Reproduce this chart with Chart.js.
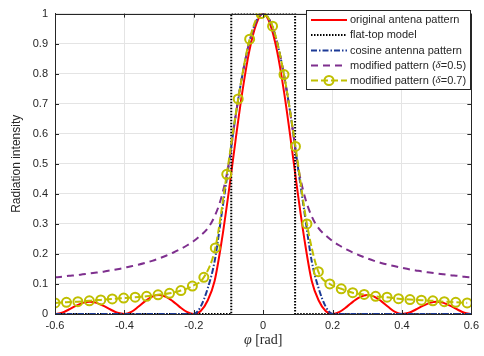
<!DOCTYPE html>
<html><head><meta charset="utf-8">
<script src="https://cdn.jsdelivr.net/npm/chart.js@4.4.0/dist/chart.umd.min.js"></script>
<style>html,body{margin:0;padding:0;background:#fff;}</style>
</head><body>
<canvas id="c" width="484" height="356"></canvas>
<script>
// ---- data ----
const phi = [-0.6,-0.58,-0.56,-0.54,-0.52,-0.5,-0.48,-0.46,-0.44,-0.42,-0.4,-0.38,-0.36,-0.34,-0.32,-0.3,-0.28,-0.26,-0.24,-0.22,-0.2,-0.18,-0.16,-0.14,-0.12,-0.1,-0.08,-0.06,-0.04,-0.02,0,0.02,0.04,0.06,0.08,0.1,0.12,0.14,0.16,0.18,0.2,0.22,0.24,0.26,0.28,0.3,0.32,0.34,0.36,0.38,0.4,0.42,0.44,0.46,0.48,0.5,0.52,0.54,0.56,0.58,0.6];
const original = [0,0.004,0.015,0.027,0.037,0.041,0.037,0.027,0.015,0.004,0,0.007,0.024,0.043,0.058,0.063,0.057,0.042,0.023,0.007,0,0.01,0.045,0.11,0.24,0.4,0.575,0.74,0.875,0.965,1,0.965,0.875,0.74,0.575,0.4,0.24,0.11,0.045,0.01,0,0.007,0.023,0.042,0.057,0.063,0.058,0.043,0.024,0.007,0,0.004,0.015,0.027,0.037,0.041,0.037,0.027,0.015,0.004,0];
const cosine = [0,0,0,0,0,0,0,0,0,0,0,0,0,0,0,0,0,0,0,0,0,0.025,0.085,0.175,0.33,0.49,0.655,0.795,0.905,0.975,1,0.975,0.905,0.795,0.655,0.49,0.33,0.175,0.085,0.025,0,0,0,0,0,0,0,0,0,0,0,0,0,0,0,0,0,0,0,0,0];
const modified05 = [0.122,0.124,0.127,0.129,0.132,0.135,0.138,0.141,0.145,0.149,0.154,0.159,0.164,0.17,0.177,0.185,0.194,0.204,0.215,0.228,0.243,0.262,0.285,0.325,0.39,0.495,0.655,0.795,0.905,0.975,1,0.975,0.905,0.795,0.655,0.495,0.39,0.325,0.285,0.262,0.243,0.228,0.215,0.204,0.194,0.185,0.177,0.17,0.164,0.159,0.154,0.149,0.145,0.141,0.138,0.135,0.132,0.129,0.127,0.124,0.122];
const phiMarkers = [-0.6,-0.567,-0.534,-0.501,-0.468,-0.435,-0.402,-0.369,-0.336,-0.303,-0.27,-0.237,-0.204,-0.171,-0.138,-0.105,-0.072,-0.039,-0.006,0.027,0.06,0.093,0.126,0.159,0.192,0.225,0.258,0.291,0.324,0.357,0.39,0.423,0.456,0.489,0.522,0.555,0.588];
const modified07 = [0.037,0.039,0.041,0.044,0.047,0.05,0.053,0.056,0.059,0.064,0.069,0.078,0.093,0.122,0.22,0.465,0.716,0.915,1.0,0.958,0.797,0.558,0.3,0.141,0.1,0.084,0.071,0.065,0.059,0.056,0.051,0.048,0.046,0.044,0.041,0.039,0.037];
const flatTopX = [-0.6,-0.092,-0.092,0.092,0.092,0.6];
const flatTopY = [0,0,1,1,0,0];
const seriesLabels = ['original antena pattern','flat-top model','cosine antenna pattern','modified pattern (\u03b4=0.5)','modified pattern (\u03b4=0.7)'];
const xTickLabels = ['-0.6','-0.4','-0.2','0','0.2','0.4','0.6'];
const yTickLabels = ['0','0.1','0.2','0.3','0.4','0.5','0.6','0.7','0.8','0.9','1'];
const xTitle = ['\u03c6', ' [rad]'];
const yTitle = 'Radiation intensity';

const pts = (xs, ys) => xs.map((x, i) => ({x: x, y: ys[i]}));
const AX = '#262626';
const SANS = '"Liberation Sans", Arial, Helvetica, sans-serif';
const SERIF = '"Liberation Serif", "DejaVu Serif", serif';

const datasets = [
  {label: seriesLabels[0], data: pts(phi, original), borderColor: '#ff0000', borderWidth: 2, pointRadius: 0, cubicInterpolationMode: 'monotone', order: 5},
  {label: seriesLabels[1], data: pts(flatTopX, flatTopY), borderColor: '#000000', borderWidth: 2, borderDash: [1.5, 1.5], pointRadius: 0, order: 4},
  {label: seriesLabels[2], data: pts(phi, cosine), borderColor: '#1c3a96', borderWidth: 2, borderDash: [6, 2, 1.5, 2], pointRadius: 0, cubicInterpolationMode: 'monotone', order: 3},
  {label: seriesLabels[3], data: pts(phi, modified05), borderColor: '#7e2f8e', borderWidth: 2, borderDash: [7, 5], pointRadius: 0, cubicInterpolationMode: 'monotone', order: 2},
  {label: seriesLabels[4], data: pts(phiMarkers, modified07), borderColor: '#bfbf00', borderWidth: 2, borderDash: [7, 3], pointRadius: 4.5, pointBorderWidth: 2, pointBorderColor: '#bfbf00', pointBackgroundColor: 'rgba(0,0,0,0)', cubicInterpolationMode: 'monotone', order: 1}
];

const deco = {
  id: 'deco',
  afterDraw(chart) {
    const ctx = chart.ctx, a = chart.chartArea;
    const xs = chart.scales.x, ys = chart.scales.y;
    ctx.save();
    // box
    ctx.strokeStyle = AX; ctx.lineWidth = 1; ctx.setLineDash([]);
    ctx.strokeRect(Math.round(a.left) + 0.5, Math.round(a.top) + 0.5, Math.round(a.right - a.left), Math.round(a.bottom - a.top));
    // inner ticks
    const tl = 4;
    ctx.beginPath();
    xs.ticks.forEach(t => {
      const px = Math.round(xs.getPixelForValue(t.value)) + 0.5;
      ctx.moveTo(px, a.bottom); ctx.lineTo(px, a.bottom - tl);
      ctx.moveTo(px, a.top); ctx.lineTo(px, a.top + tl);
    });
    ys.ticks.forEach(t => {
      const py = Math.round(ys.getPixelForValue(t.value)) + 0.5;
      ctx.moveTo(a.left, py); ctx.lineTo(a.left + tl, py);
      ctx.moveTo(a.right, py); ctx.lineTo(a.right - tl, py);
    });
    ctx.stroke();

    // axis titles
    ctx.fillStyle = AX;
    ctx.textBaseline = 'middle';
    ctx.font = 'italic 14px ' + SERIF;
    const w1 = ctx.measureText(xTitle[0]).width;
    ctx.font = '14px ' + SERIF;
    const w2 = ctx.measureText(xTitle[1]).width;
    const cx = (a.left + a.right) / 2;
    let tx = cx - (w1 + w2) / 2;
    ctx.textAlign = 'left';
    ctx.font = 'italic 14px ' + SERIF;
    ctx.fillText(xTitle[0], tx, 340);
    ctx.font = '14px ' + SERIF;
    ctx.fillText(xTitle[1], tx + w1, 340);

    ctx.save();
    ctx.translate(17, (a.top + a.bottom) / 2);
    ctx.rotate(-Math.PI / 2);
    ctx.textAlign = 'center';
    ctx.font = '12px ' + SANS;
    ctx.fillText(yTitle, 0, 0);
    ctx.restore();

    // legend
    const bx = 306.5, by = 10.5, bw = 164, bh = 79;
    ctx.fillStyle = '#ffffff';
    ctx.fillRect(bx, by, bw, bh);
    ctx.strokeStyle = AX; ctx.lineWidth = 1;
    ctx.strokeRect(bx, by, bw, bh);
    const rows = [20, 35, 50.5, 65.5, 80.5];
    chart.data.datasets.forEach((ds, i) => {
      const y = rows[i];
      ctx.save();
      ctx.strokeStyle = ds.borderColor;
      ctx.lineWidth = ds.borderWidth;
      ctx.setLineDash(ds.borderDash || []);
      ctx.beginPath(); ctx.moveTo(311, y); ctx.lineTo(347, y); ctx.stroke();
      if (ds.pointRadius) {
        ctx.setLineDash([]);
        ctx.lineWidth = ds.pointBorderWidth;
        ctx.strokeStyle = ds.pointBorderColor;
        ctx.beginPath(); ctx.arc(329, y, ds.pointRadius, 0, Math.PI * 2); ctx.stroke();
      }
      ctx.restore();
      // text, delta italic
      ctx.fillStyle = AX; ctx.textAlign = 'left'; ctx.textBaseline = 'middle';
      const parts = ds.label.split('\u03b4');
      let x = 350;
      parts.forEach((p, k) => {
        if (k > 0) {
          ctx.font = 'italic 11px ' + SERIF;
          ctx.fillText('\u03b4', x, y);
          x += ctx.measureText('\u03b4').width;
        }
        ctx.font = '11px ' + SANS;
        ctx.fillText(p, x, y);
        x += ctx.measureText(p).width;
      });
    });
    ctx.restore();
  }
};

new Chart(document.getElementById('c'), {
  type: 'line',
  data: {datasets: datasets},
  options: {
    responsive: false,
    animation: false,
    layout: {padding: {left: 0, right: 12, top: 8, bottom: 0}},
    plugins: {legend: {display: false}, tooltip: {enabled: false}},
    scales: {
      x: {
        type: 'linear', min: -0.6, max: 0.6,
        afterFit: s => { s.height = 42; },
        afterBuildTicks: s => { s.ticks = xTickLabels.map(v => ({value: parseFloat(v)})); },
        ticks: {callback: (v, i) => xTickLabels[i], color: AX, font: {family: SANS, size: 11}, padding: 5, maxRotation: 0, autoSkip: false},
        grid: {color: '#e4e4e4', drawTicks: false},
        border: {display: true, color: AX}
      },
      y: {
        type: 'linear', min: 0, max: 1,
        afterFit: s => { s.width = 55; },
        afterBuildTicks: s => { s.ticks = yTickLabels.map(v => ({value: parseFloat(v)})); },
        ticks: {callback: (v, i) => yTickLabels[i], color: AX, font: {family: SANS, size: 11}, padding: 7, autoSkip: false},
        grid: {color: '#e4e4e4', drawTicks: false},
        border: {display: true, color: AX}
      }
    }
  },
  plugins: [deco]
});
</script>
</body></html>
